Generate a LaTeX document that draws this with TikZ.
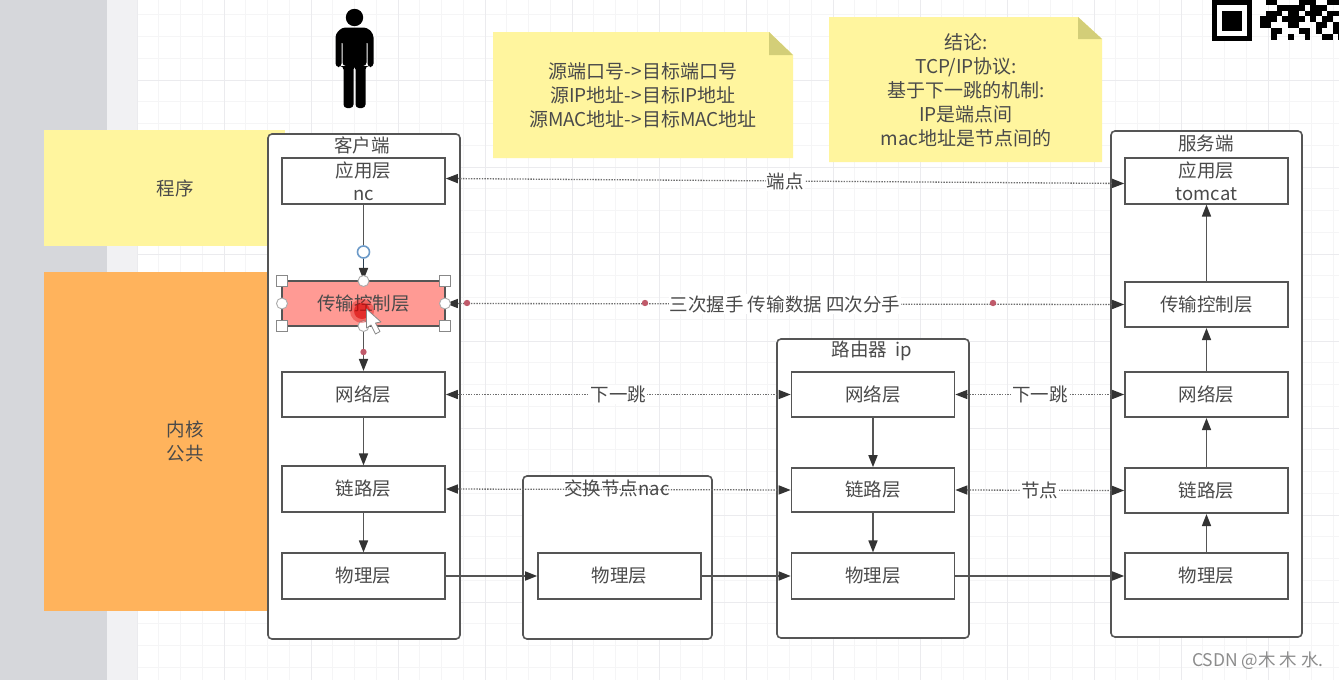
\documentclass[tikz,border=0pt]{standalone}
\usepackage{fontspec}
\setmainfont{Noto Sans CJK SC}
\usetikzlibrary{arrows.meta}
\definecolor{ink}{HTML}{555555}
\definecolor{txt}{HTML}{4A4A4A}
\definecolor{tip}{HTML}{333333}
\definecolor{leftgrey}{HTML}{D6D7DB}
\definecolor{leftpale}{HTML}{F1F1F3}
\definecolor{gridminor}{HTML}{F5F5F6}
\definecolor{gridmajor}{HTML}{EBEBEE}
\definecolor{noteyellow}{HTML}{FFF59E}
\definecolor{notefold}{HTML}{D3CE78}
\definecolor{kernel}{HTML}{FFB35C}
\definecolor{selred}{HTML}{FF9A94}
\definecolor{handleblue}{HTML}{6C9AC8}
\definecolor{dotred}{HTML}{C05A6A}
\tikzset{
  layer/.style={draw=ink,line width=1.6pt,fill=white,minimum width=163pt,minimum height=45.5pt,inner sep=0pt,text=txt,font=\fontsize{18.5}{23}\selectfont,align=center},
  hostbox/.style={draw=ink,line width=1.6pt,fill=white,rounded corners=4pt},
  title/.style={text=txt,font=\fontsize{18.5}{20}\selectfont,inner sep=0pt},
  flow/.style={draw=ink,line width=1.6pt,-{Triangle[length=12pt,width=9pt,color=tip]}},
  dots/.style={draw=ink!85,line width=1.3pt,dash pattern=on 1.4pt off 1.3pt,{Triangle[length=12pt,width=9pt,color=tip]}-{Triangle[length=12pt,width=9pt,color=tip]}},
  dotlabel/.style={fill=white,text=txt,font=\fontsize{18.5}{20}\selectfont,inner sep=1pt},
  notetext/.style={text=txt,font=\fontsize{19}{24}\selectfont,align=center,inner sep=0pt},
  handle/.style={draw=ink!70,fill=white,line width=0.9pt},
  zonetext/.style={text=txt,font=\fontsize{18.5}{24}\selectfont,align=center,inner sep=0pt}
}
\begin{document}
\begin{tikzpicture}[x=1pt,y=-1pt]
\useasboundingbox (0,0) rectangle (1339,680);
% backdrop
\fill[white] (0,0) rectangle (1339,680);
\foreach \k in {0,...,55} {\draw[gridminor,line width=0.8pt] ({137+21.75*\k},0) -- ({137+21.75*\k},680);}
\foreach \k in {0,...,32} {\draw[gridminor,line width=0.8pt] (137,{-7+21.75*\k}) -- (1339,{-7+21.75*\k});}
\foreach \k in {0,...,14} {\draw[gridmajor,line width=1pt] ({137+87*\k},0) -- ({137+87*\k},680);}
\foreach \k in {0,...,7} {\draw[gridmajor,line width=1pt] (137,{80+87*\k}) -- (1339,{80+87*\k});}
\fill[leftpale] (107,0) rectangle (137,680);
\fill[leftgrey] (0,0) rectangle (107,680);
% zones
\fill[noteyellow] (44,130) rectangle (285,246);
\fill[kernel] (44,272) rectangle (268,611);
\node[zonetext] (zprog) at (175,188) {程序};
\node[zonetext] (zkern) at (185,441) {内核\\公共};
% person
\fill[black] (354.5,17.5) circle (8.7);
\fill[black,rounded corners=3.5pt] (335.5,67) -- (335.5,34) -- (342,27.5) -- (367,27.5) -- (373.5,34) -- (373.5,67) -- (367.5,67) -- (367.5,40) -- (366.5,40) -- (366.5,66) -- (365.5,66) -- (365.5,108) -- (355.5,108) -- (355.5,66) -- (353.5,66) -- (353.5,108) -- (343.5,108) -- (343.5,66) -- (342.5,66) -- (342.5,40) -- (341.5,40) -- (341.5,67) -- cycle;
% notes
\fill[noteyellow] (493,32) -- (769,32) -- (793,55) -- (793,158) -- (493,158) -- cycle;
\fill[notefold] (769,32) -- (793,55) -- (769,55) -- cycle;
\node[notetext] (n1) at (643,95) {源端口号->目标端口号\\源IP地址->目标IP地址\\源MAC地址->目标MAC地址};
\fill[noteyellow] (829,17) -- (1078,17) -- (1102,39) -- (1102,162) -- (829,162) -- cycle;
\fill[notefold] (1078,17) -- (1102,39) -- (1078,39) -- cycle;
\node[notetext] (n2) at (966,90.5) {结论:\\TCP/IP协议:\\基于下一跳的机制:\\IP是端点间\\mac地址是节点间的};
% QR fragment
\fill[black] (1212,0) rectangle (1252,41);
\fill[white] (1217,5) rectangle (1247,36);
\fill[black] (1222,11) rectangle (1242,31);
\foreach \c/\r in {1/0,2/0,7/0,8/0,9/0,12/0,13/0,14/0,
  3/1,4/1,5/1,6/1,7/1,9/1,10/1,11/1,
  1/2,2/2,3/2,5/2,6/2,8/2,9/2,10/2,12/2,13/2,14/2,
  0/3,1/3,2/3,4/3,5/3,6/3,7/3,9/3,11/3,12/3,
  0/4,1/4,5/4,6/4,10/4,11/4,13/4,14/4,
  2/5,3/5,7/5,8/5,10/5,13/5,14/5,
  2/6,5/6,8/6,11/6,12/6,14/6}
  {\fill[black] ({1260+5.6*\c},{-1+5.8*\r}) rectangle ++(5.6,5.8);}
% client
\node[hostbox,minimum width=192pt,minimum height=505pt,inner sep=0pt] (client) at (364,386.5) {};
\node[title] (tclient) at (362,145) {客户端};
\node[layer] (capp) at (363.5,181) {应用层\\nc};
\node[layer,fill=selred] (ctrans) at (363.5,303.5) {传输控制层};
\node[layer] (cnet) at (363.5,394.5) {网络层};
\node[layer] (clink) at (363.5,489) {链路层};
\node[layer] (cphys) at (363.5,576) {物理层};
% switch
\node[hostbox,minimum width=189pt,minimum height=163pt,inner sep=0pt] (sw) at (617.5,557.5) {};
\node[layer] (swphys) at (619.5,576) {物理层};
% router
\node[hostbox,minimum width=192pt,minimum height=299pt,inner sep=0pt] (rt) at (873,488.5) {};
\node[title] (trt) at (872,351) {路由器\ \ ip};
\node[layer] (rnet) at (873,394.5) {网络层};
\node[layer,minimum height=44pt] (rlink) at (873,490) {链路层};
\node[layer] (rphys) at (873,576) {物理层};
% server
\node[hostbox,minimum width=191pt,minimum height=506pt,inner sep=0pt] (srv) at (1206.5,384) {};
\node[title] (tsrv) at (1206,143) {服务端};
\node[layer] (sapp) at (1206.5,181) {应用层\\tomcat};
\node[layer] (strans) at (1206.5,304.5) {传输控制层};
\node[layer] (snet) at (1206.5,394.5) {网络层};
\node[layer] (slink) at (1206.5,490.5) {链路层};
\node[layer] (sphys) at (1206.5,576) {物理层};
% vertical flows
\draw[draw=ink,line width=1.6pt] (capp.south) -- (363.5,258);
\draw[flow,draw=black!60!handleblue] (363.5,258) -- (ctrans.north);
\draw[flow] (ctrans.south) -- (cnet.north);
\draw[flow] (cnet.south) -- (clink.north);
\draw[flow] (clink.south) -- (cphys.north);
\draw[flow] (rnet.south) -- (rlink.north);
\draw[flow] (rlink.south) -- (rphys.north);
\draw[flow] (sphys.north) -- (slink.south);
\draw[flow] (slink.north) -- (snet.south);
\draw[flow] (snet.north) -- (strans.south);
\draw[flow] (strans.north) -- (sapp.south);
% physical path
\draw[flow] (cphys.east) -- (swphys.west);
\draw[flow] (swphys.east) -- (rphys.west);
\draw[flow] (rphys.east) -- (sphys.west);
% dotted peers
\draw[dots] ([yshift=2.5pt]capp.east) -- node[dotlabel] (lend) {端点} ([yshift=-2.5pt]sapp.west);
\draw[dots] (ctrans.east) -- node[dotlabel] (lhs) {三次握手 传输数据 四次分手} (strans.west);
\draw[dots] (cnet.east) -- node[dotlabel] (lnext1) {下一跳} (rnet.west);
\draw[dots] (rnet.east) -- node[dotlabel] (lnext2) {下一跳} (snet.west);
\draw[dots] (clink.east) -- (rlink.west);
\draw[dots] (rlink.east) -- node[dotlabel] (lnode) {节点} (slink.west);
\node[title] (tsw) at (617,488) {交换节点nac};
% selection furniture
\foreach \p in {(645,303),(993,303),(467,303)} {\fill[dotred] \p circle (3.2);}
\fill[dotred] (363.5,352) circle (3.2);
\foreach \x/\y in {282/281,445/281,282/326,445/326} {\draw[handle] (\x-5.5,\y-5.5) rectangle (\x+5.5,\y+5.5);}
\foreach \x/\y in {363.5/281,282/303.5,445/303.5,363.5/326} {\draw[handle,draw=ink!50] (\x,\y) circle (5.5);}
\draw[draw=handleblue,fill=white,line width=1.6pt] (363.5,252) circle (6);
\fill[red!85!black,opacity=.35] (362,311) circle (12);
\fill[red!85!black,opacity=.55] (362,311) circle (8);
\draw[fill=white,draw=ink!70,line width=0.8pt,line join=round] (366.5,309) -- (366.5,328) -- (371,325) -- (375.5,334) -- (380,331.5) -- (375.5,323) -- (381,322) -- cycle;
% watermark
\node[text=black!45,font=\fontsize{17.5}{18}\selectfont,inner sep=0pt] (wm) at (1258,661) {CSDN @木 木 水.};
\end{tikzpicture}
\end{document}
